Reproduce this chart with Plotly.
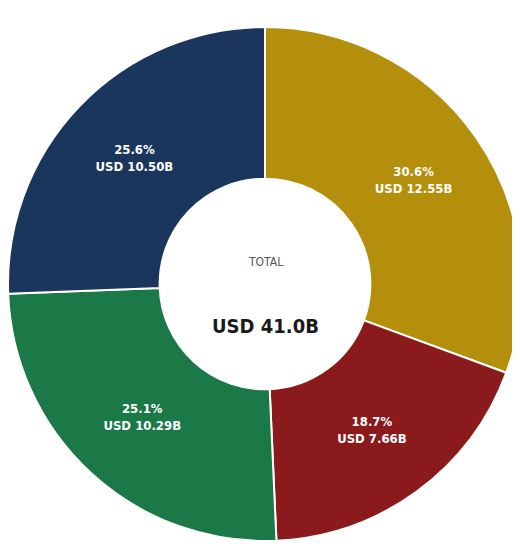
import plotly.graph_objects as go

categories = ["Gold", "Red", "Green", "Navy"]
values = [12.55, 7.66, 10.29, 10.50]
colors = ["#B38F0C", "#8A1A1B", "#1B7847", "#1B365C"]
total_label = "TOTAL"
total_value = "USD 41.0B"

FONT = "DejaVu Sans Condensed, Liberation Sans Narrow, Roboto, sans-serif"

fig = go.Figure(
    go.Pie(
        labels=categories,
        values=values,
        sort=False,
        direction="clockwise",
        rotation=0,
        hole=0.41,
        marker=dict(colors=colors, line=dict(color="white", width=2)),
        texttemplate="<b>%{percent:.1%}<br>USD %{value:.2f}B</b>",
        textposition="inside",
        insidetextorientation="horizontal",
        insidetextfont=dict(color="white", size=13, family=FONT),
        hoverinfo="skip",
        showlegend=False,
        domain=dict(x=[0, 514 / 520], y=[15 / 548, 529 / 548]),
    )
)

fig.update_layout(
    width=520,
    height=548,
    margin=dict(l=0, r=0, t=0, b=0),
    paper_bgcolor="white",
    plot_bgcolor="white",
    annotations=[
        dict(text=total_label, x=257 / 520, y=(548 - 254) / 548, xref="paper", yref="paper",
             showarrow=False, font=dict(family=FONT, size=12, color="#555555"),
             xanchor="center", yanchor="middle"),
        dict(text="<b>" + total_value + "</b>", x=257 / 520, y=(548 - 318) / 548, xref="paper", yref="paper",
             showarrow=False, font=dict(family=FONT, size=20, color="#1a1a1a"),
             xanchor="center", yanchor="middle"),
    ],
)

fig.write_html("out.html", post_script="document.documentElement.style.overflow='hidden';")
